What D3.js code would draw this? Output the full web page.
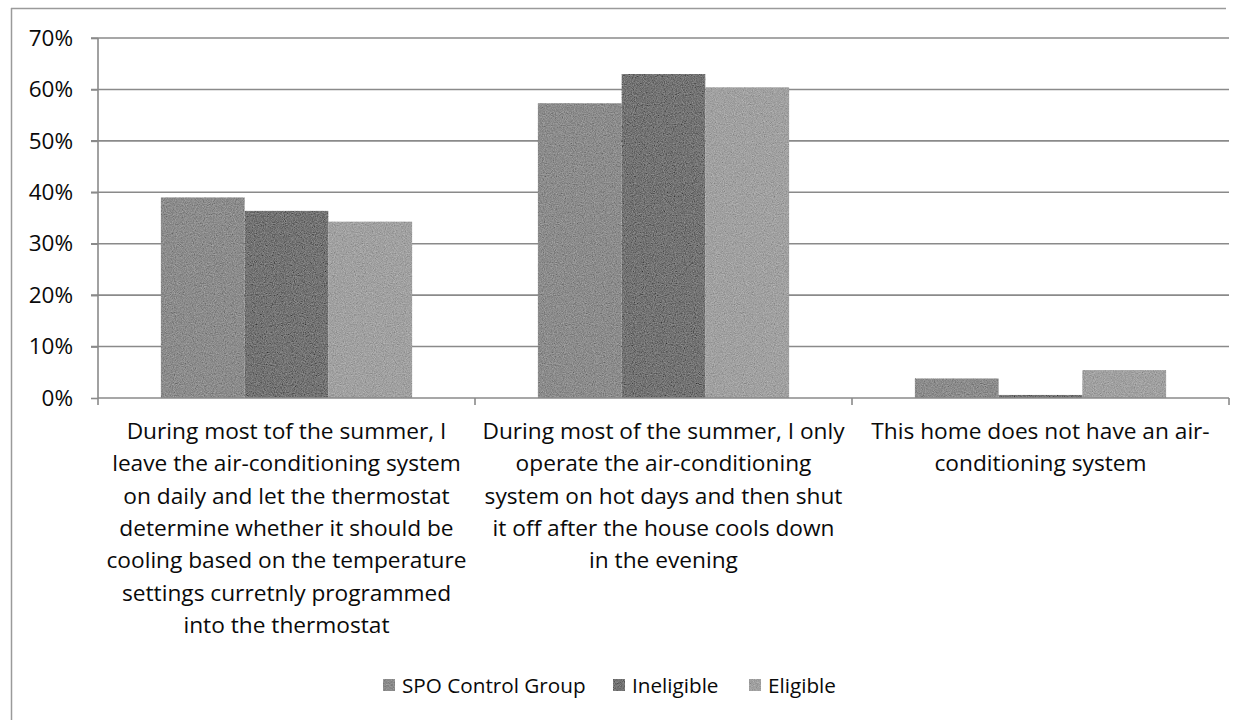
<!DOCTYPE html>
<html>
<head>
<meta charset="utf-8">
<script src="https://cdn.jsdelivr.net/npm/d3@7"></script>
<style>
  html, body { margin: 0; padding: 0; background: #fff; }
  svg { display: block; }
  text { font-family: "Open Sans", Lato, sans-serif; fill: #0a0a0a; }
</style>
</head>
<body>
<svg id="chart" width="1254" height="720"></svg>
<script>
// Category labels, already broken into the lines they are shown on
const categories = ["c1", "c2", "c3"];
const categoryLines = [
  ["During most tof the summer, I", "leave the air-conditioning system", "on daily and let the thermostat",
   "determine whether it should be", "cooling based on the temperature", "settings curretnly programmed",
   "into the thermostat"],
  ["During most of the summer, I only", "operate the air-conditioning", "system on hot days and then shut",
   "it off after the house cools down", "in the evening"],
  ["This home does not have an air-", "conditioning system"]
];
const seriesNames = ["SPO Control Group", "Ineligible", "Eligible"];
const spoValues = [0.390, 0.573, 0.038];
const ineligibleValues = [0.364, 0.630, 0.006];
const eligibleValues = [0.343, 0.604, 0.054];
const yTicks = [0, 0.1, 0.2, 0.3, 0.4, 0.5, 0.6, 0.7];
const seriesColors = ["#8b8b8b", "#727272", "#a0a0a0"];

const seriesValues = [spoValues, ineligibleValues, eligibleValues];

const svg = d3.select("#chart");
const plotLeft = 98, plotRight = 1229, plotTop = 38, plotBottom = 398;

// speckled fill texture for the bars
const grain = svg.append("defs").append("filter").attr("id", "grain")
  .attr("x", 0).attr("y", 0).attr("width", 1).attr("height", 1);
grain.append("feTurbulence").attr("type", "fractalNoise").attr("baseFrequency", 0.9)
  .attr("numOctaves", 2).attr("seed", 4).attr("result", "t");
grain.append("feColorMatrix").attr("in", "t").attr("type", "matrix")
  .attr("values", "0.33 0.33 0.33 0 0  0.33 0.33 0.33 0 0  0.33 0.33 0.33 0 0  0 0 0 0 1")
  .attr("result", "g");
grain.append("feComposite").attr("in", "SourceGraphic").attr("in2", "g").attr("operator", "arithmetic")
  .attr("k1", 0).attr("k2", 1).attr("k3", 0.55).attr("k4", -0.27).attr("result", "c");
grain.append("feComposite").attr("in", "c").attr("in2", "SourceGraphic").attr("operator", "in");

// outer frame (left and top edges)
svg.append("line").attr("x1", 11.5).attr("x2", 11.5).attr("y1", 8).attr("y2", 720)
  .attr("stroke", "#9a9a9a").attr("stroke-width", 1.5);
svg.append("line").attr("x1", 11).attr("x2", 1226).attr("y1", 8.5).attr("y2", 8.5)
  .attr("stroke", "#9a9a9a").attr("stroke-width", 1.5);

const x0 = d3.scaleBand().domain(categories).range([plotLeft, plotRight]).paddingInner(0).paddingOuter(0);
// 150% gap width: 3 bars of width w plus 1.5w of gap per category
const x1 = d3.scaleBand().domain(seriesNames).range([0, x0.bandwidth() * 3 / 4.5]);
const groupOffset = (x0.bandwidth() - x0.bandwidth() * 3 / 4.5) / 2;
const y = d3.scaleLinear().domain([0, 0.7]).range([plotBottom, plotTop]);

// gridlines
svg.append("g").selectAll("line").data(yTicks.filter(d => d > 0)).join("line")
  .attr("x1", plotLeft - 7).attr("x2", plotRight)
  .attr("y1", d => y(d)).attr("y2", d => y(d))
  .attr("stroke", "#8a8a8a").attr("stroke-width", 1.6);

// bars
seriesNames.forEach((name, si) => {
  svg.append("g").selectAll("rect").data(categories).join("rect")
    .attr("x", c => x0(c) + groupOffset + x1(name))
    .attr("width", x1.bandwidth())
    .attr("y", (c, i) => y(seriesValues[si][i]))
    .attr("height", (c, i) => y(0) - y(seriesValues[si][i]))
    .attr("fill", seriesColors[si])
    .attr("filter", "url(#grain)");
});

// y axis
const yAxis = d3.axisLeft(y).tickValues(yTicks).tickFormat(d3.format(".0%")).tickSize(7).tickPadding(18);
const gy = svg.append("g").attr("transform", `translate(${plotLeft},0)`).call(yAxis);
gy.select(".domain").attr("stroke", "#8a8a8a").attr("stroke-width", 1.6).attr("d", `M0,${plotTop}V${plotBottom}`);
gy.selectAll(".tick line").attr("stroke", "#8a8a8a").attr("stroke-width", 1.6);
gy.selectAll(".tick text").attr("font-size", 22.5).attr("font-family", "'Open Sans', sans-serif").attr("fill", "#0a0a0a");

// x axis
const xAxis = d3.axisBottom(x0).tickSize(0).tickFormat("");
const gx = svg.append("g").attr("transform", `translate(0,${plotBottom})`).call(xAxis);
gx.select(".domain").attr("stroke", "#8a8a8a").attr("stroke-width", 1.6).attr("d", `M${plotLeft},0H${plotRight}`);
// category separators
gx.append("g").selectAll("line").data([plotLeft, ...categories.map(c => x0(c) + x0.bandwidth())]).join("line")
  .attr("x1", d => d).attr("x2", d => d).attr("y1", 0).attr("y2", 7)
  .attr("stroke", "#8a8a8a").attr("stroke-width", 1.6);

// category labels
categories.forEach((c, i) => {
  const t = svg.append("text")
    .attr("x", x0(c) + x0.bandwidth() / 2)
    .attr("y", 439)
    .attr("text-anchor", "middle")
    .attr("font-size", 22.7);
  categoryLines[i].forEach((line, k) => {
    t.append("tspan").attr("x", x0(c) + x0.bandwidth() / 2).attr("y", 439 + k * 32.3).text(line);
  });
});

// legend
const legendItems = [
  { name: seriesNames[0], x: 383 },
  { name: seriesNames[1], x: 613 },
  { name: seriesNames[2], x: 749 }
];
const lg = svg.append("g");
legendItems.forEach((it, i) => {
  lg.append("rect").attr("x", it.x).attr("y", 679).attr("width", 12).attr("height", 12)
    .attr("fill", seriesColors[i]).attr("filter", "url(#grain)");
  lg.append("text").attr("x", it.x + 19).attr("y", 693).attr("font-size", 20.7).text(it.name);
});
</script>
</body>
</html>
